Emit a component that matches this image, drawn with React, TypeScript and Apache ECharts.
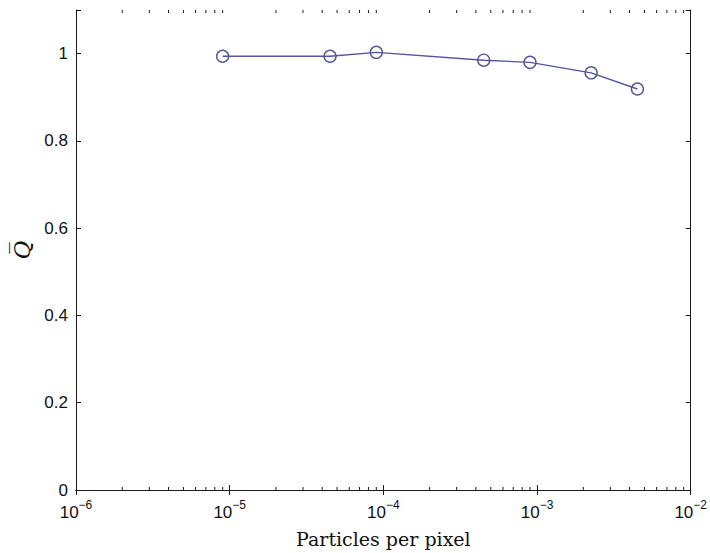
import React, { useEffect, useRef } from "react";
import * as echarts from "echarts";

const xValues = [9e-6, 4.5e-5, 9e-5, 4.5e-4, 9e-4, 2.25e-3, 4.5e-3];
const qValues = [0.994, 0.994, 1.003, 0.985, 0.98, 0.956, 0.919];
const xTickExponents = [-6, -5, -4, -3, -2];
const yTicks = [0, 0.2, 0.4, 0.6, 0.8, 1];
const minorTickValues: number[] = [];
for (let e = -6; e < -2; e++) {
  for (let m = 2; m <= 9; m++) minorTickValues.push(m * Math.pow(10, e));
}

const X_MIN = 1e-6;
const X_MAX = 1e-2;
const Y_MIN = 0;
const Y_MAX = 1.1;
const LINE_COLOR = "#55559c";
const AXIS_COLOR = "#1a1a1a";
const LABEL_FONT = "'Liberation Sans', Arial, sans-serif";
const SERIF_FONT = "'DejaVu Serif', 'Liberation Serif', serif";

export default function App() {
  const ref = useRef<HTMLDivElement>(null);
  useEffect(() => {
    if (!ref.current) return;
    const chart = echarts.init(ref.current, undefined, { renderer: "svg" });
    const axisLine = { show: true, lineStyle: { color: AXIS_COLOR, width: 1 } };
    const majorTick = { show: true, inside: true, length: 5, lineStyle: { color: AXIS_COLOR, width: 1 } };
    chart.setOption({
      animation: false,
      backgroundColor: "#ffffff",
      grid: { left: 76, right: 18, top: 10, bottom: 61, containLabel: false },
      xAxis: [
        {
          type: "log",
          logBase: 10,
          min: X_MIN,
          max: X_MAX,
          position: "bottom",
          axisLine,
          axisTick: majorTick,
          splitLine: { show: false },
          axisLabel: {
            margin: 9,
            formatter: (v: number) => {
              const e = Math.round(Math.log10(v));
              return xTickExponents.includes(e) ? `{b|10}{s|${e < 0 ? "\u2212" + -e : e}}` : "";
            },
            rich: {
              b: { fontSize: 17, fontFamily: LABEL_FONT, color: "#111", verticalAlign: "bottom", lineHeight: 22 },
              s: { fontSize: 12, fontFamily: LABEL_FONT, color: "#111", verticalAlign: "top", lineHeight: 22, padding: [0, 0, 8, 0] },
            },
          },
          name: "Particles per pixel",
          nameLocation: "middle",
          nameGap: 39,
          nameTextStyle: { fontFamily: SERIF_FONT, fontSize: 19, color: "#111" },
        },
        {
          type: "log",
          logBase: 10,
          min: X_MIN,
          max: X_MAX,
          position: "top",
          axisLine,
          axisTick: majorTick,
          axisLabel: { show: false },
          splitLine: { show: false },
        },
      ],
      yAxis: [
        {
          type: "value",
          min: Y_MIN,
          max: Y_MAX,
          interval: 0.2,
          position: "left",
          axisLine,
          axisTick: majorTick,
          splitLine: { show: false },
          axisLabel: {
            margin: 8,
            fontSize: 17,
            fontFamily: LABEL_FONT,
            color: "#111",
            formatter: (v: number) => {
              const t = yTicks.find((y) => Math.abs(y - v) < 1e-9);
              return t === undefined ? "" : String(t);
            },
          },
          name: "Q\u0305",
          nameLocation: "middle",
          nameRotate: 90,
          nameGap: 40,
          nameTextStyle: { fontFamily: "'DejaVu Serif', serif", fontStyle: "italic", fontSize: 23, color: "#111" },
        },
        {
          type: "value",
          min: Y_MIN,
          max: Y_MAX,
          interval: 0.2,
          position: "right",
          axisLine,
          axisTick: majorTick,
          axisLabel: { show: false },
          splitLine: { show: false },
        },
      ],
      series: [
        {
          type: "custom",
          xAxisIndex: 0,
          yAxisIndex: 0,
          silent: true,
          clip: false,
          data: minorTickValues.map((v) => [v, Y_MIN]),
          renderItem: (params: any, api: any) => {
            const v = api.value(0);
            const b = api.coord([v, Y_MIN]);
            const t = api.coord([v, Y_MAX]);
            const style = { stroke: AXIS_COLOR, lineWidth: 1 };
            return {
              type: "group",
              children: [
                { type: "line", shape: { x1: b[0], y1: b[1], x2: b[0], y2: b[1] - 3 }, style },
                { type: "line", shape: { x1: t[0], y1: t[1], x2: t[0], y2: t[1] + 3 }, style },
              ],
            };
          },
        },
        {
          type: "line",
          xAxisIndex: 0,
          yAxisIndex: 0,
          data: xValues.map((x, i) => [x, qValues[i]]),
          symbol: "circle",
          symbolSize: 12,
          showAllSymbol: true,
          lineStyle: { color: LINE_COLOR, width: 1.4 },
          itemStyle: { color: "rgba(0,0,0,0)", borderColor: LINE_COLOR, borderWidth: 1.4 },
        },
      ],
    });
    return () => chart.dispose();
  }, []);
  return <div ref={ref} style={{ width: 710, height: 553, position: "absolute", left: 0, top: 0 }} />;
}
